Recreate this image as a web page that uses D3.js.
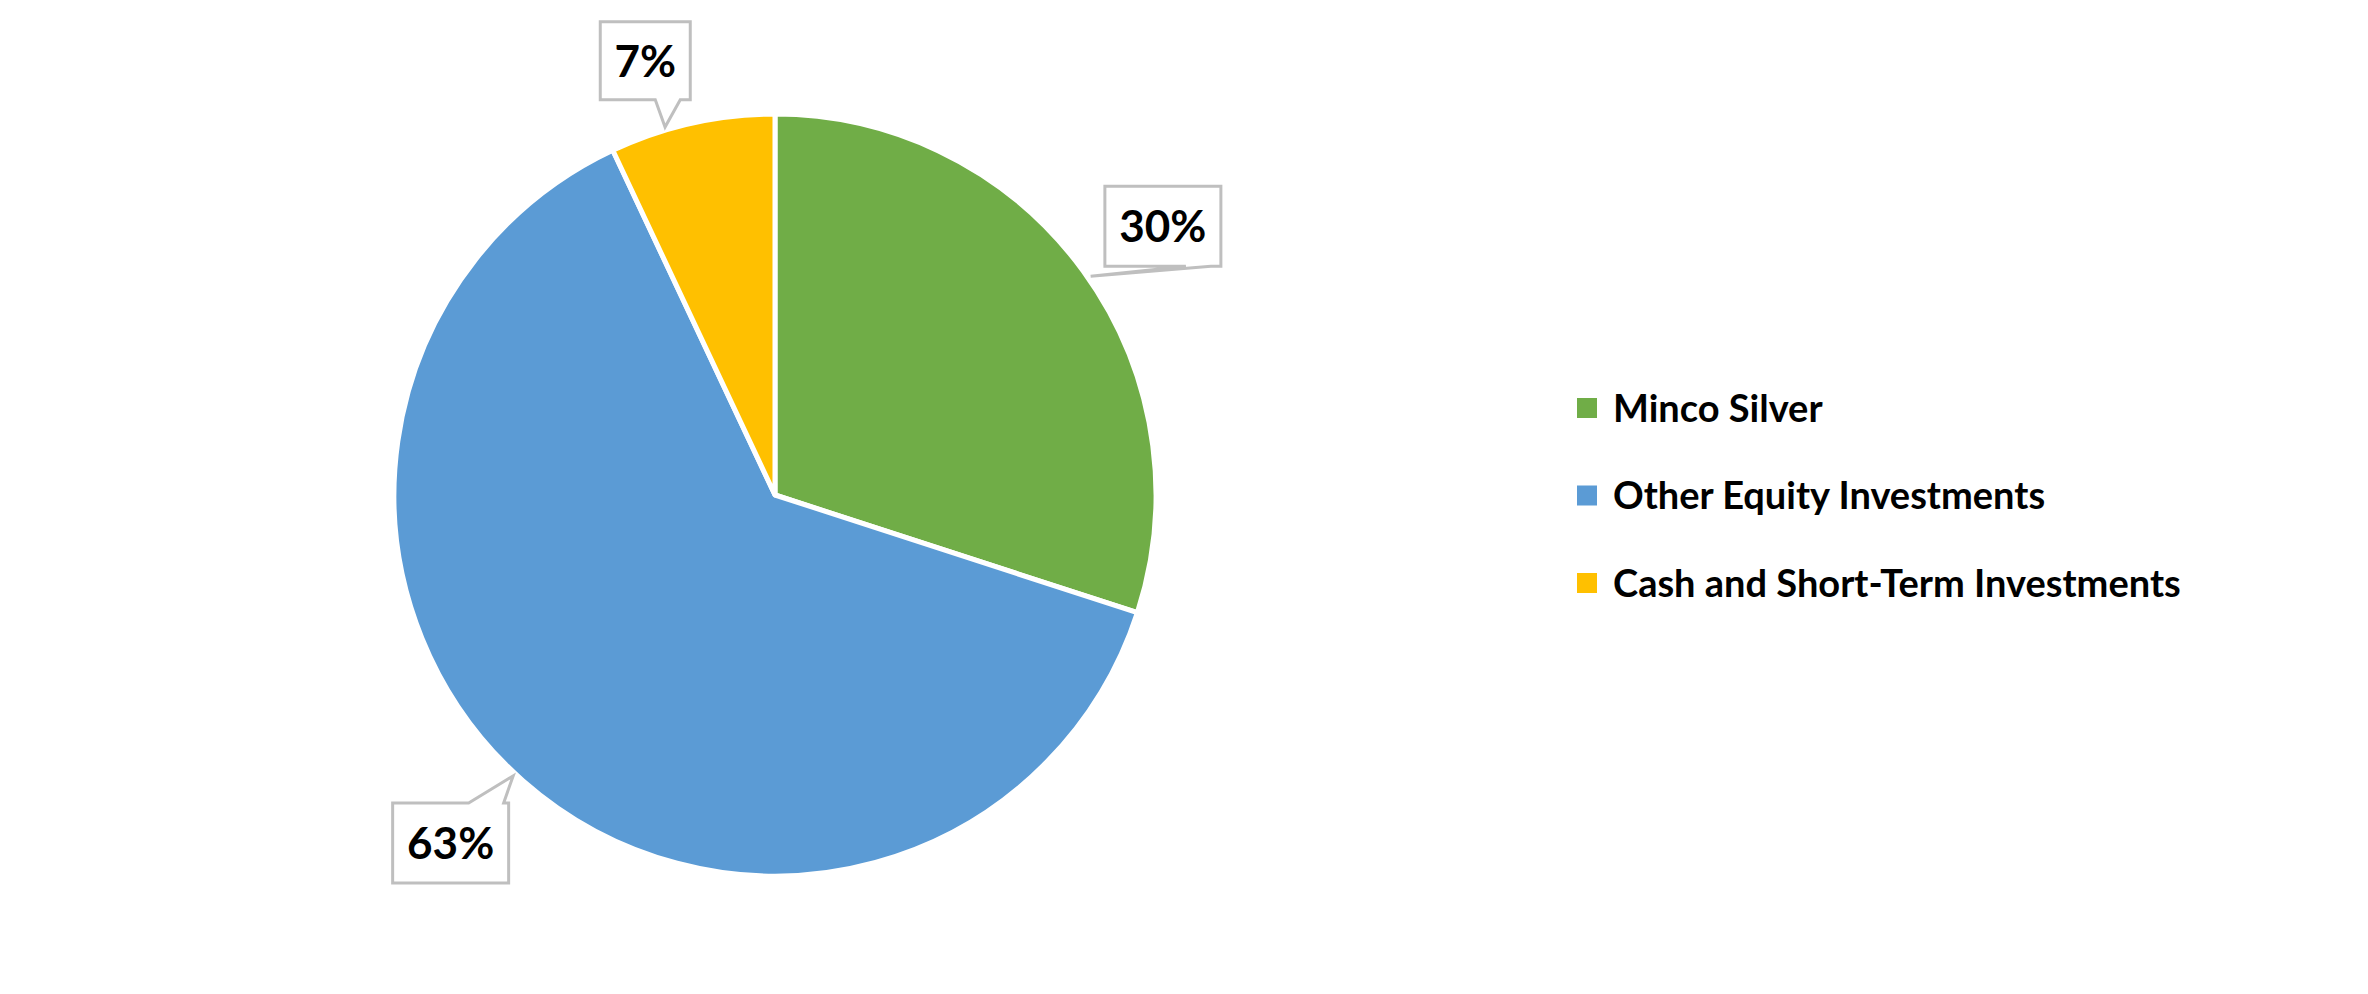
<!DOCTYPE html>
<html><head><meta charset="utf-8">
<script src="https://cdn.jsdelivr.net/npm/d3@7"></script>
<style>body{margin:0;background:#fff}</style></head>
<body><svg id="c" width="2368" height="994"></svg>
<script>
const categories = ["Minco Silver","Other Equity Investments","Cash and Short-Term Investments"];
const values = [30,63,7];
const labels = ["30%","63%","7%"];
const colors = ["#70ad47","#5b9bd5","#ffc000"];
const svg = d3.select("#c");
const cx=775, cy=495, R=381;
const pie = d3.pie().sort(null).value(d=>d)(values);
const arc = d3.arc().innerRadius(0).outerRadius(R);
const g = svg.append("g").attr("transform",`translate(${cx},${cy})`);
g.selectAll("path.s").data(pie).join("path").attr("class","s")
 .attr("d",arc).attr("fill",(d,i)=>colors[i]).attr("stroke","#fff").attr("stroke-width",5).attr("stroke-linejoin","round");
const font="Lato, 'Open Sans', sans-serif";
// callouts
const fac=[1.2,1.2,1.2], shift=[[18,0],[-22,5],[-30,12]];
pie.forEach((d,i)=>{
  const a=(d.startAngle+d.endAngle)/2;
  const bx=Math.sin(a)*R*fac[i]+shift[i][0], by=-Math.cos(a)*R*fac[i]+shift[i][1];
  const w=i==2?90:116, h=i==2?78:80;
  const x0=bx-w/2,x1=bx+w/2,y0=by-h/2,y1=by+h/2;
  const ta=Math.atan2(bx,-by);
  const tx=Math.sin(ta)*(R+3), ty=-Math.cos(ta)*(R+3);
  let p;
  if(ty>y1){ // bottom
    p=`M${x0},${y0}H${x1}V${y1}H${x1-10}L${tx},${ty}L${x1-35},${y1}H${x0}Z`;
  } else if(ty<y0){ // top
    p=`M${x0},${y0}H${x1-40}L${tx},${ty}L${x1-5},${y0}H${x1}V${y1}H${x0}Z`;
  } else { // left
    p=`M${x0},${y0}H${x1}V${y1}H${x0}V${y1-5}L${tx},${ty}L${x0},${y1-35}Z`;
  }
  g.append("path").attr("d",p).attr("fill","#fff").attr("stroke","#bfbfbf").attr("stroke-width",3);
  g.append("text").attr("x",bx).attr("y",by).attr("dy","0.36em").attr("text-anchor","middle")
   .attr("font-family",font).attr("font-weight","bold").attr("font-size",44).text(labels[i]);
});
// legend
const ly=d3.scalePoint().domain(categories).range([408,583]);
const lg=svg.append("g");
categories.forEach((c,i)=>{
  lg.append("rect").attr("x",1577).attr("y",ly(c)-10).attr("width",20).attr("height",20).attr("fill",colors[i]);
  lg.append("text").attr("x",1613).attr("y",ly(c)).attr("dy","0.36em").attr("font-family",font)
   .attr("font-weight","bold").attr("font-size",38).text(c);
});
</script></body></html>
